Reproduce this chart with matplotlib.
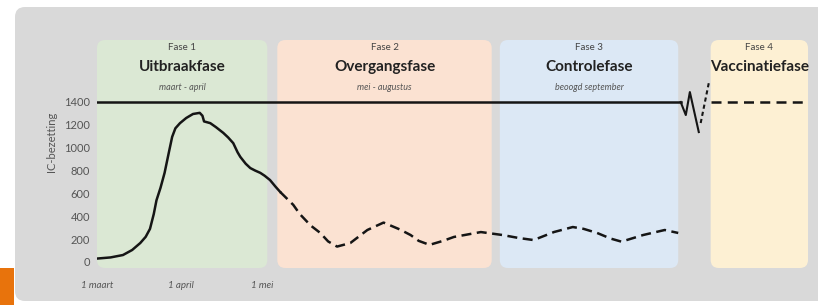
import matplotlib
matplotlib.use("Agg")
import matplotlib.pyplot as plt
from matplotlib.patches import FancyBboxPatch, Rectangle
from matplotlib.transforms import blended_transform_factory

plt.rcParams['font.family'] = ['Lato', 'DejaVu Sans']

# ---- data ----
days_solid = [0, 5, 9.6, 13, 16, 18, 19.6, 21, 22, 23.5, 25, 26.5, 27.8, 29,
              30.7, 33, 35.5, 38, 39, 39.6, 41.9, 44, 46.7, 48.5, 50.4, 52, 53,
              55, 56.7, 58.5, 60.4, 62, 64, 66, 67.8]
ic_solid = [30, 40, 61, 105, 166, 220, 290, 420, 540, 650, 780, 950, 1095, 1170,
            1215, 1260, 1295, 1305, 1280, 1230, 1215, 1180, 1130, 1090, 1040,
            960, 920, 860, 822, 800, 780, 755, 717, 660, 612]
days_dashed = [67.8, 72.6, 75, 79, 82.6, 85.5, 88.8, 93.7, 100, 106, 112, 116,
               119, 123, 128, 132, 142, 150, 156, 161.5, 169, 176, 180, 185,
               190, 194, 202, 210, 215]
ic_dashed = [612, 500, 420, 320, 254, 180, 135, 166, 280, 345, 285, 236, 185,
             150, 185, 219, 262, 236, 210, 192, 262, 306, 290, 254, 205, 178,
             236, 280, 254]
capacity = 1400
cap_end_day = 215.9
zig_days = [215.9, 217.8, 219.3, 222.6]
zig_vals = [1400, 1286, 1487, 1137]
rise_days = [223.3, 226.3]
rise_vals = [1216, 1566]
future_days = [227, 263]

phase_starts = [0, 66.7, 149, 227]
phase_ends = [63, 146, 215, 263]
phase_nums = ["Fase 1", "Fase 2", "Fase 3", "Fase 4"]
phase_names = ["Uitbraakfase", "Overgangsfase", "Controlefase", "Vaccinatiefase"]
phase_periods = ["maart - april", "mei - augustus", "beoogd september", ""]
phase_colors = ["#dbe8d4", "#fbe2d2", "#dce8f5", "#fdf0d3"]

yticks = [0, 200, 400, 600, 800, 1000, 1200, 1400]
xtick_days = [0, 31, 61]
xtick_labels = ["1 maart", "1 april", "1 mei"]

W, H = 818, 305
fig = plt.figure(figsize=(W / 100, H / 100), dpi=100)
fig.patch.set_facecolor("white")

# background layer in pixel coordinates
bg = fig.add_axes([0, 0, 1, 1], zorder=0)
bg.set_xlim(0, W)
bg.set_ylim(H, 0)
bg.axis("off")
bg.add_patch(FancyBboxPatch((15, 7), 820, 294, boxstyle="round,pad=0,rounding_size=10",
                            fc="#d9d9d9", ec="none"))
bg.add_patch(Rectangle((0, 268), 14, 40, fc="#e8730c", ec="none"))

# main axes
ax = fig.add_axes([97 / W, (H - 268) / H, (808 - 97) / W, (268 - 40) / H], zorder=1)
ax.set_facecolor("none")
ax.set_xlim(0, 263)
ax.set_ylim(-52.5, 1942.5)
for s in ax.spines.values():
    s.set_visible(False)

ylo, yhi = ax.get_ylim()
aspect = 8.75 * 2.7
for x0, x1, c in zip(phase_starts, phase_ends, phase_colors):
    ax.add_patch(FancyBboxPatch((x0, ylo), x1 - x0, yhi - ylo,
                                boxstyle="round,pad=0,rounding_size=3",
                                mutation_aspect=aspect, fc=c, ec="none", zorder=0))

tr = blended_transform_factory(ax.transData, fig.transFigure)
for x0, x1, n, name, per in zip(phase_starts, phase_ends, phase_nums, phase_names, phase_periods):
    xc = (x0 + x1) / 2
    ax.text(xc, 1 - 47 / H, n, transform=tr, ha="center", va="center",
            fontsize=7, color="#444444")
    ax.text(xc, 1 - 67 / H, name, transform=tr, ha="center", va="center",
            fontsize=11, fontweight="bold", color="#222222")
    if per:
        ax.text(xc, 1 - 87 / H, per, transform=tr, ha="center", va="center",
                fontsize=6.5, style="italic", color="#555555")

lc = "#151515"
ax.plot([0, cap_end_day], [capacity, capacity], color=lc, lw=1.8, zorder=3)
ax.plot(zig_days, zig_vals, color=lc, lw=1.5, zorder=3)
ax.plot(rise_days, rise_vals, color=lc, lw=1.5, ls=(0, (2, 1.5)), zorder=3)
ax.plot(future_days, [capacity, capacity], color=lc, lw=1.8, ls=(0, (4, 2.5)), zorder=3)

ax.plot(days_solid, ic_solid, color=lc, lw=1.8, zorder=3, solid_joinstyle="round")
ax.plot(days_dashed, ic_dashed, color=lc, lw=1.8, ls=(0, (4, 2.2)), zorder=3)

ax.set_yticks(yticks)
ax.set_yticklabels([str(v) for v in yticks])
ax.set_xticks(xtick_days)
ax.set_xticklabels(xtick_labels, style="italic")
ax.tick_params(axis="y", length=0, pad=5, labelsize=8, labelcolor="#555555")
ax.tick_params(axis="x", length=0, pad=9, labelsize=7, labelcolor="#555555")

fig.text(52 / W, 1 - 142 / H, "IC-bezetting", rotation=90, ha="center", va="center",
         fontsize=8, color="#555555")

fig.savefig("out.png", dpi=100)
